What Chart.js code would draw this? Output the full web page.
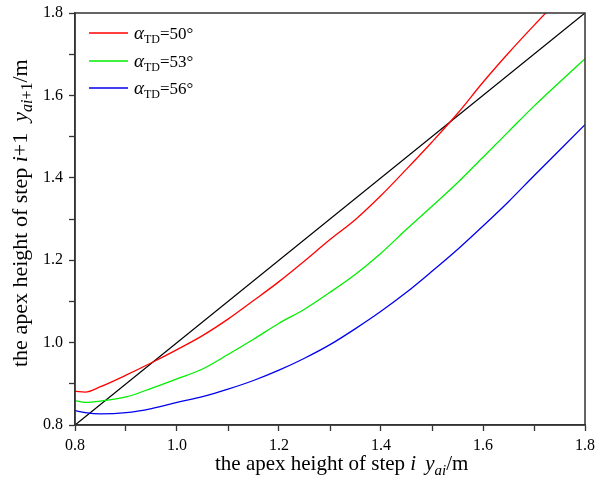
<!DOCTYPE html>
<html>
<head>
<meta charset="utf-8">
<script src="https://cdn.jsdelivr.net/npm/chart.js@4"></script>
<style>
  html, body { margin: 0; padding: 0; background: #fff; }
  #wrap { width: 595px; height: 486px; }
</style>
</head>
<body>
<div id="wrap"><canvas id="apexChart" width="595" height="486"></canvas></div>
<script>
// apex height of step i (x) vs step i+1 (y)
const stepX = [0.80, 0.82, 0.85, 0.90, 0.95, 1.00, 1.05, 1.10, 1.15, 1.20, 1.25,
               1.30, 1.35, 1.40, 1.45, 1.50, 1.55, 1.60, 1.65, 1.70, 1.75, 1.80];
const td50 = [0.882, 0.880, 0.893, 0.921, 0.951, 0.983, 1.017, 1.057, 1.102, 1.148, 1.198,
              1.250, 1.299, 1.357, 1.421, 1.487, 1.556, 1.632, 1.703, 1.770, 1.835, 1.900];
const td53 = [0.859, 0.855, 0.858, 0.868, 0.889, 0.912, 0.936, 0.971, 1.008, 1.047, 1.081,
              1.122, 1.166, 1.217, 1.275, 1.331, 1.388, 1.450, 1.512, 1.574, 1.632, 1.689];
const td56 = [0.835, 0.830, 0.827, 0.830, 0.840, 0.855, 0.869, 0.887, 0.908, 0.933, 0.962,
              0.995, 1.034, 1.076, 1.122, 1.173, 1.226, 1.283, 1.342, 1.405, 1.467, 1.529];
const diagX = [0.8, 1.8];
const diagY = [0.8, 1.8];
const legendAngles = ['50°', '53°', '56°'];
const lineColors = ['#ff0000', '#00ee00', '#0000ee'];

const serif = '"Liberation Serif", "Times New Roman", serif';

function toPoints(xs, ys) {
    return xs.map((x, i) => ({ x: x, y: ys[i] }));
}

// draws a run of text pieces with different fonts / offsets
function drawRich(ctx, parts, x, y) {
    let cx = x;
    parts.forEach(p => {
        ctx.font = p.font;
        if (p.t) ctx.fillText(p.t, cx, y + (p.dy || 0));
        cx += p.t ? ctx.measureText(p.t).width : 0;
        cx += p.gap || 0;
    });
    return cx;
}

const decorPlugin = {
    id: 'decor',
    afterDraw(chart) {
        const ctx = chart.ctx;
        const a = chart.chartArea;
        ctx.save();
        // frame
        ctx.strokeStyle = '#333';
        ctx.lineWidth = 1.5;
        ctx.strokeRect(a.left, a.top, a.right - a.left, a.bottom - a.top);

        ctx.fillStyle = '#000';
        ctx.textBaseline = 'alphabetic';
        ctx.textAlign = 'left';
        const n = '21px ' + serif;
        const it = 'italic 21px ' + serif;
        const sub = 'italic 15px ' + serif;

        // x title
        drawRich(ctx, [
            { t: 'the apex height of step ', font: n },
            { t: 'i', font: it, gap: 9 },
            { t: 'y', font: it },
            { t: 'ai', font: sub, dy: 5 },
            { t: '/m', font: n }
        ], 215, 470);

        // y title
        const ny = '22px ' + serif;
        const ity = 'italic 22px ' + serif;
        ctx.save();
        ctx.translate(27, 367);
        ctx.rotate(-Math.PI / 2);
        drawRich(ctx, [
            { t: 'the apex height of step ', font: ny },
            { t: 'i', font: ity },
            { t: '+1', font: ny, gap: 11 },
            { t: 'y', font: ity },
            { t: 'ai', font: 'italic 16px ' + serif, dy: 5 },
            { t: '+1', font: '16px ' + serif, dy: 5 },
            { t: '/m', font: ny }
        ], 0, 0);
        ctx.restore();

        // legend
        const rows = [33, 61, 88];
        rows.forEach((ry, i) => {
            ctx.strokeStyle = lineColors[i];
            ctx.lineWidth = 1.3;
            ctx.beginPath();
            ctx.moveTo(89, ry);
            ctx.lineTo(128, ry);
            ctx.stroke();
            drawRich(ctx, [
                { t: 'α', font: 'italic 19px ' + serif },
                { t: 'TD', font: '12px ' + serif, dy: 4 },
                { t: '=' + legendAngles[i], font: '17px ' + serif }
            ], 134, ry + 6);
        });
        ctx.restore();
    }
};

const lineStyle = (color) => ({
    borderColor: color,
    backgroundColor: color,
    borderWidth: 1.3,
    pointRadius: 0,
    cubicInterpolationMode: 'monotone',
    fill: false
});

new Chart(document.getElementById('apexChart'), {
    type: 'line',
    data: {
        datasets: [
            Object.assign({ label: 'TD=50', data: toPoints(stepX, td50) }, lineStyle(lineColors[0])),
            Object.assign({ label: 'TD=53', data: toPoints(stepX, td53) }, lineStyle(lineColors[1])),
            Object.assign({ label: 'TD=56', data: toPoints(stepX, td56) }, lineStyle(lineColors[2])),
            Object.assign({ label: 'y=x', data: toPoints(diagX, diagY) }, lineStyle('#000000'))
        ]
    },
    options: {
        responsive: false,
        animation: false,
        layout: { padding: { left: 0, top: 13, right: 10, bottom: 0 } },
        plugins: { legend: { display: false }, tooltip: { enabled: false } },
        scales: {
            x: {
                type: 'linear',
                min: 0.8,
                max: 1.8,
                afterFit: s => { s.height = 61; s.paddingLeft = 0; s.paddingRight = 0; },
                border: { display: true, color: '#333', width: 1.5 },
                grid: { drawOnChartArea: false, drawTicks: true, tickLength: 6, tickColor: '#333', tickWidth: 1.3 },
                ticks: {
                    stepSize: 0.1,
                    autoSkip: false,
                    maxRotation: 0,
                    color: '#000',
                    font: { family: serif, size: 16 },
                    padding: 5,
                    callback: v => (Math.round(v * 10) % 2 === 0 ? v.toFixed(1) : '')
                }
            },
            y: {
                type: 'linear',
                min: 0.8,
                max: 1.8,
                afterFit: s => { s.width = 75; s.paddingTop = 0; s.paddingBottom = 0; },
                border: { display: true, color: '#333', width: 1.5 },
                grid: { drawOnChartArea: false, drawTicks: true, tickLength: 6, tickColor: '#333', tickWidth: 1.3 },
                ticks: {
                    stepSize: 0.1,
                    autoSkip: false,
                    color: '#000',
                    font: { family: serif, size: 16 },
                    padding: 6,
                    callback: v => (Math.round(v * 10) % 2 === 0 ? v.toFixed(1) : '')
                }
            }
        }
    },
    plugins: [decorPlugin]
});
</script>
</body>
</html>
